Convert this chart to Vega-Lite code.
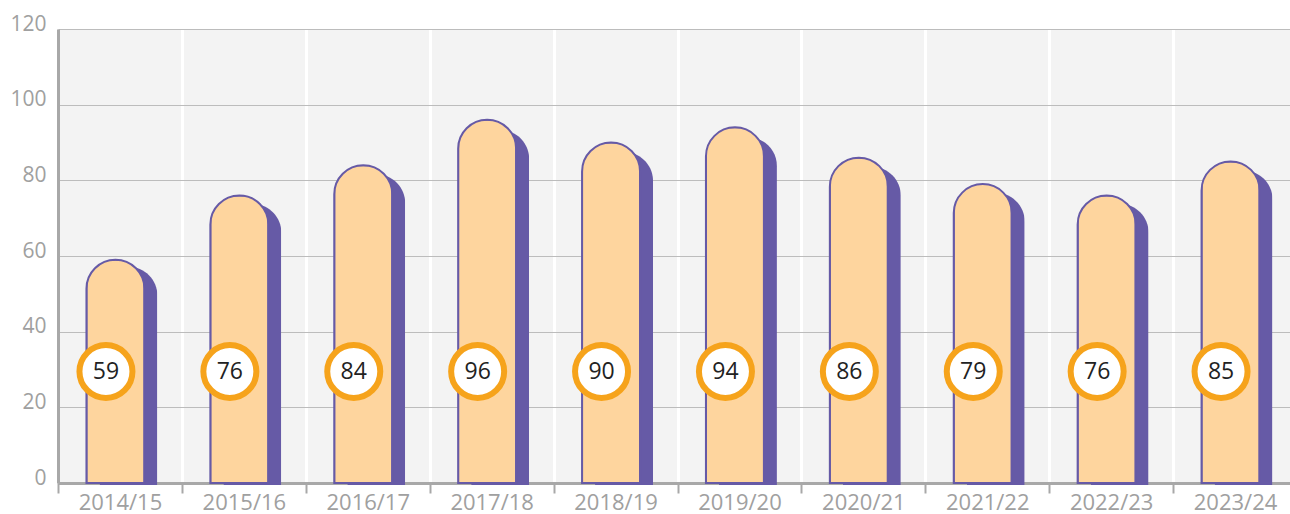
{
  "$schema": "https://vega.github.io/schema/vega-lite/v6.json",
  "width": 1232,
  "height": 454,
  "autosize": {"type": "none"},
  "padding": {"left": 58, "top": 29, "right": 0, "bottom": 31},
  "background": "white",
  "config": {"view": {"fill": "#f3f3f3", "stroke": null}, "font": "Open Sans"},
  "data": {
    "values": [
      {"season": "2014/15", "value": 59},
      {"season": "2015/16", "value": 76},
      {"season": "2016/17", "value": 84},
      {"season": "2017/18", "value": 96},
      {"season": "2018/19", "value": 90},
      {"season": "2019/20", "value": 94},
      {"season": "2020/21", "value": 86},
      {"season": "2021/22", "value": 79},
      {"season": "2022/23", "value": 76},
      {"season": "2023/24", "value": 85}
    ]
  },
  "encoding": {
    "x": {
      "field": "season",
      "type": "nominal",
      "sort": null,
      "scale": {"range": [0, 1239], "paddingInner": 0, "paddingOuter": 0},
      "axis": {
        "title": null,
        "labelAngle": 0,
        "domain": true,
        "domainColor": "#a8a8a8",
        "domainWidth": 3,
        "ticks": true,
        "tickBand": "extent",
        "tickColor": "#a8a8a8",
        "tickWidth": 2,
        "tickSize": 10,
        "grid": true,
        "gridColor": "#ffffff",
        "gridWidth": 3,
        "labelColor": "#a0a0a0",
        "labelFontSize": 22,
        "labelPadding": -1
      }
    }
  },
  "resolve": {"scale": {"y": "independent"}},
  "layer": [
    {
      "mark": {"type": "bar", "width": 1, "opacity": 0},
      "encoding": {
        "y": {
          "field": "value",
          "type": "quantitative",
          "scale": {"domain": [0, 120]},
          "axis": null
        }
      }
    },
    {
      "mark": {
        "type": "bar",
        "width": 58,
        "color": "#665aa6",
        "xOffset": 8.5,
        "cornerRadiusEnd": 29
      },
      "encoding": {
        "y": {
          "field": "value",
          "type": "quantitative",
          "scale": {"domain": [0, 120], "range": [456, 12]},
          "axis": null
        }
      }
    },
    {
      "layer": [
        {
          "mark": {
            "type": "bar",
            "width": 58,
            "fill": "#fed59e",
            "stroke": "#665aa6",
            "strokeWidth": 2,
            "xOffset": -4.5,
            "cornerRadiusEnd": 29
          },
          "encoding": {
            "y": {
              "field": "value",
              "type": "quantitative",
              "scale": {"domain": [0, 120]},
              "axis": {
                "title": null,
                "values": [0, 20, 40, 60, 80, 100, 120],
                "domain": true,
                "domainColor": "#a8a8a8",
                "domainWidth": 3,
                "ticks": false,
                "tickSize": 0,
                "grid": true,
                "gridColor": "#bcbcbc",
                "gridWidth": 1,
                "labelColor": "#a0a0a0",
                "labelFontSize": 21,
                "labelPadding": 12,
                "labelOffset": -5
              }
            }
          }
        },
        {
          "mark": {
            "type": "point",
            "shape": "circle",
            "size": 2809,
            "fill": "#ffffff",
            "fillOpacity": 1,
            "stroke": "#f6a31b",
            "strokeWidth": 6,
            "opacity": 1,
            "xOffset": -14,
            "yOffset": 2
          },
          "encoding": {
            "y": {"datum": 30, "type": "quantitative"}
          }
        },
        {
          "mark": {
            "type": "text",
            "fontSize": 23,
            "color": "#222222",
            "baseline": "middle",
            "align": "center",
            "xOffset": -14,
            "yOffset": 2
          },
          "encoding": {
            "y": {"datum": 30, "type": "quantitative"},
            "text": {"field": "value", "type": "quantitative"}
          }
        }
      ]
    }
  ]
}
